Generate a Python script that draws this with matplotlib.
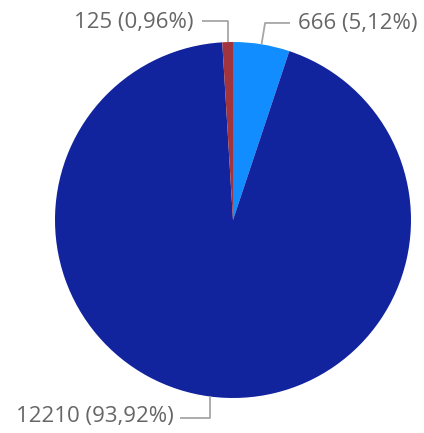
import matplotlib
matplotlib.use("Agg")
import matplotlib.pyplot as plt
import numpy as np

values = [666, 12210, 125]
labels = ["666 (5,12%)", "12210 (93,92%)", "125 (0,96%)"]
colors = ["#118DFF", "#12239E", "#A1343C"]

plt.rcParams['font.family'] = ['Open Sans', 'DejaVu Sans']

W, H = 424, 433
fig = plt.figure(figsize=(W / 100, H / 100), dpi=100)
cx, cy, r = 233, 220, 178
ax = fig.add_axes([(cx - r) / W, (H - cy - r) / H, 2 * r / W, 2 * r / H])
ax.pie(values, colors=colors, startangle=90, counterclock=False, radius=1,
       wedgeprops=dict(linewidth=0))
ax.set_xlim(-1, 1)
ax.set_ylim(-1, 1)
ax.set_aspect('equal')
ax.axis('off')

# leader-line geometry per label: (kink dx, kink y, horizontal end x, text x, ha, text dy)
style = [
    (0.02, 1.107, 0.32, 0.363, 'left', -0.005),
    (0.0, -1.11, -0.298, -0.335, 'right', 0.005),
    (0.0, 1.118, -0.174, -0.222, 'right', -0.01),
]
total = sum(values)
cum = 0
for v, lab, st in zip(values, labels, style):
    mid = (cum + v / 2) / total * 2 * np.pi
    cum += v
    ex, ey = np.sin(mid), np.cos(mid)
    kdx, ky, hx, tx, ha, tdy = st
    kx = ex + kdx
    ax.plot([ex, kx, hx], [ey, ky, ky], color="#A6A6A6", lw=1.3,
            clip_on=False, solid_capstyle='butt')
    ax.text(tx, ky + tdy, lab, ha=ha, va='center', fontsize=16,
            color="#666666", clip_on=False)

fig.savefig("out.png", dpi=100)
